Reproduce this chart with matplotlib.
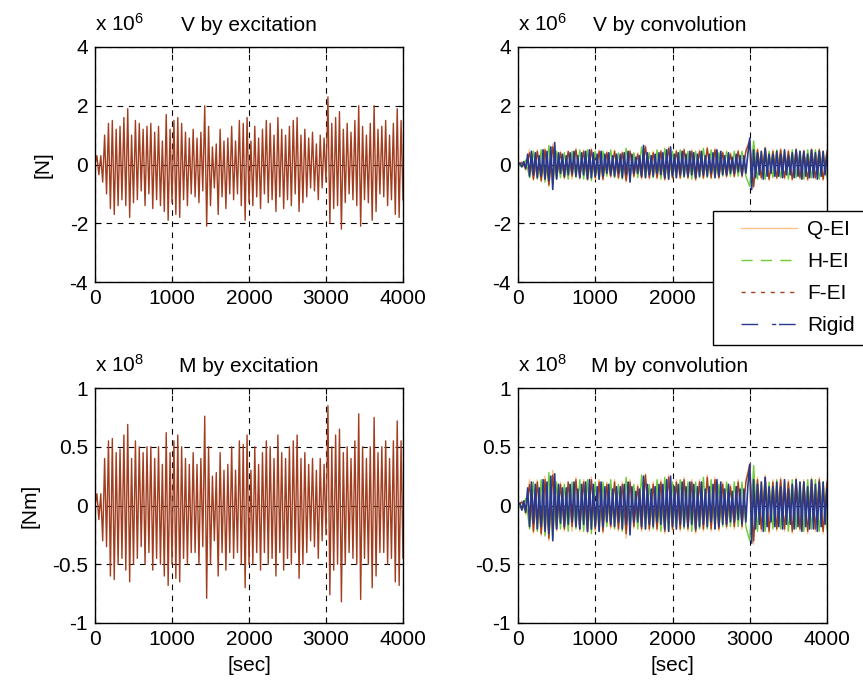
import matplotlib
matplotlib.use('Agg')
import matplotlib.pyplot as plt
from matplotlib.lines import Line2D
from matplotlib.legend_handler import HandlerLine2D
import numpy as np

plt.rcParams['font.family'] = ['Liberation Sans', 'DejaVu Sans']
plt.rcParams['mathtext.default'] = 'regular'
plt.rcParams['font.size'] = 15

# shear force by excitation (x 1e6 N), sampled every 25 s
v_exc = [0, 0.3, -0.35, 0.3, -0.6, 1.0, -1.0, 1.4, -1.5, 1.5,
         -1.7, 1.2, -1.4, 1.3, -1.2, 1.6, -1.4, 1.9, -1.8, 1.0,
         -1.3, 1.5, -1.2, 1.4, -0.9, 1.2, -1.4, 1.3, -1.0, 1.4,
         -1.5, 1.1, -1.2, 1.3, -1.4, 0.8, -1.6, 1.7, -1.9, 1.2,
         -1.3, 1.5, -1.7, 1.6, -1.8, 1.4, -1.2, 1.1, -1.4, 0.9,
         -1.0, 1.2, -1.1, 0.9, -1.3, 1.1, -0.9, 2.0, -2.1, 1.3,
         -1.4, 0.6, -0.8, 0.7, -1.7, 1.2, -1.1, 0.8, -1.5, 0.9,
         -1.0, 1.3, -1.2, 0.8, -1.0, 1.5, -1.4, 1.4, -1.9, 1.6,
         -1.3, 0.8, -1.4, 1.3, -1.1, 0.9, -1.5, 1.2, -1.0, 1.5,
         -1.3, 1.4, -1.2, 1.0, -1.6, 1.6, -1.1, 1.2, -1.5, 1.0,
         -1.2, 1.3, -1.4, 1.5, -1.0, 1.6, -1.6, 1.0, -1.3, 1.2,
         -1.1, 0.9, -0.8, 1.1, -0.9, 0.7, -1.2, 1.0, -0.8, 0.9,
         -0.6, 2.3, -2.0, 1.4, -1.5, 1.6, -1.4, 1.8, -2.2, 1.2,
         -1.3, 1.4, -1.0, 1.1, -1.2, 1.5, -1.4, 2.0, -2.1, 1.3,
         -1.2, 1.0, -1.3, 1.4, -1.9, 2.0, -1.6, 1.2, -1.0, 1.3,
         -1.1, 1.5, -1.4, 1.0, -1.2, 1.4, -1.7, 1.9, -1.8, 1.5,
         -1.2]

# bending moment by excitation (x 1e8 Nm), sampled every 25 s
m_exc = [0, 0.1, -0.12, 0.1, -0.3, 0.4, -0.35, 0.55, -0.6, 0.57,
         -0.63, 0.45, -0.5, 0.48, -0.45, 0.6, -0.55, 0.69, -0.65, 0.4,
         -0.5, 0.55, -0.45, 0.5, -0.35, 0.45, -0.5, 0.5, -0.4, 0.5,
         -0.55, 0.4, -0.45, 0.5, -0.5, 0.35, -0.6, 0.62, -0.68, 0.45,
         -0.5, 0.55, -0.62, 0.6, -0.65, 0.5, -0.45, 0.4, -0.5, 0.35,
         -0.4, 0.45, -0.4, 0.35, -0.5, 0.4, -0.35, 0.76, -0.79, 0.5,
         -0.5, 0.25, -0.3, 0.28, -0.6, 0.45, -0.4, 0.3, -0.55, 0.35,
         -0.4, 0.5, -0.45, 0.3, -0.4, 0.55, -0.5, 0.52, -0.7, 0.6,
         -0.5, 0.3, -0.5, 0.5, -0.4, 0.35, -0.55, 0.45, -0.4, 0.55,
         -0.5, 0.5, -0.45, 0.4, -0.6, 0.6, -0.4, 0.45, -0.55, 0.4,
         -0.45, 0.5, -0.5, 0.55, -0.4, 0.6, -0.62, 0.4, -0.5, 0.45,
         -0.4, 0.35, -0.3, 0.4, -0.35, 0.3, -0.45, 0.4, -0.3, 0.35,
         -0.25, 0.85, -0.76, 0.5, -0.55, 0.6, -0.5, 0.65, -0.82, 0.45,
         -0.5, 0.5, -0.4, 0.4, -0.45, 0.55, -0.5, 0.78, -0.8, 0.5,
         -0.45, 0.4, -0.5, 0.5, -0.7, 0.75, -0.6, 0.45, -0.4, 0.5,
         -0.4, 0.55, -0.5, 0.4, -0.45, 0.55, -0.65, 0.72, -0.68, 0.55,
         -0.45]

# shear force by convolution (x 1e6 N)
v_rigid = [0, 0.05, -0.08, 0.1, -0.15, 0.35, -0.4, 0.45, -0.35, 0.4,
           -0.45, 0.3, -0.4, 0.5, -0.5, 0.45, -0.55, 0.6, -0.85, 0.75,
           -0.5, 0.4, -0.3, 0.35, -0.4, 0.3, -0.35, 0.4, -0.3, 0.45,
           -0.4, 0.3, -0.45, 0.4, -0.35, 0.45, -0.5, 0.5, -0.45, 0.4,
           -0.4, 0.35, -0.5, 0.45, -0.4, 0.35, -0.3, 0.4, -0.35, 0.3,
           -0.4, 0.35, -0.3, 0.35, -0.45, 0.4, -0.35, 0.45, -0.6, 0.35,
           -0.3, 0.25, -0.3, 0.3, -0.4, 0.65, -0.45, 0.4, -0.35, 0.3,
           -0.4, 0.35, -0.3, 0.4, -0.35, 0.4, -0.45, 0.5, -0.5, 0.6,
           -0.4, 0.35, -0.45, 0.4, -0.35, 0.45, -0.4, 0.35, -0.4, 0.45,
           -0.35, 0.4, -0.45, 0.35, -0.4, 0.45, -0.35, 0.3, -0.4, 0.35,
           -0.3, 0.4, -0.45, 0.5, -0.4, 0.45, -0.35, 0.3, -0.35, 0.4,
           -0.3, 0.25, -0.3, 0.35, -0.25, 0.3, -0.35, 0.3, -0.3, 0.35,
           0.9, -0.85, 0.5, -0.45, 0.4, -0.35, 0.45, -0.5, 0.55, -0.4,
           0.35, -0.3, 0.35, -0.4, 0.45, -0.4, 0.35, -0.45, 0.5, -0.35,
           0.3, -0.35, 0.4, -0.45, 0.5, -0.4, 0.45, -0.5, 0.45, -0.4,
           0.35, -0.45, 0.5, -0.45, 0.4, -0.5, 0.45, -0.4, 0.45, -0.35,
           0.3]
v_qei = [0, 0.1, -0.2, 0.5, -0.55, 0.5, -0.6, 0.55, -0.75, 0.7,
         -0.5, 0.45, -0.5, 0.45, -0.5, 0.55, -0.5, 0.5, -0.55, 0.55,
         -0.5, 0.5, -0.55, 0.45, -0.45, 0.5, -0.5, 0.45, -0.6, 0.5,
         -0.45, 0.4, -0.5, 0.65, -0.5, 0.45, -0.5, 0.5, -0.55, 0.6,
         -0.5, 0.5, -0.5, 0.55, -0.5, 0.5, -0.55, 0.5, -0.5, 0.6,
         -0.5, 0.55, -0.5, 0.45, -0.45, 0.4, -0.45, 0.5, -0.45, 0.5,
         0.85, -0.8, 0.55, -0.5, 0.6, -0.55, 0.5, -0.5, 0.55, -0.5,
         0.5, -0.55, 0.55, -0.5, 0.5, -0.55, 0.55, -0.5, 0.55, -0.55,
         0.5]
v_hei = [0, -0.08, 0.15, -0.45, 0.45, -0.5, 0.5, -0.6, 0.65, -0.7,
         0.45, -0.45, 0.4, -0.5, 0.45, -0.45, 0.5, -0.5, 0.5, -0.55,
         0.45, -0.5, 0.45, -0.4, 0.5, -0.45, 0.4, -0.5, 0.55, -0.45,
         0.4, -0.45, 0.6, -0.45, 0.4, -0.45, 0.5, -0.5, 0.55, -0.5,
         0.45, -0.45, 0.5, -0.45, 0.45, -0.5, 0.45, -0.45, 0.55, -0.45,
         0.5, -0.45, 0.4, -0.4, 0.45, -0.4, 0.45, -0.4, 0.45, -0.4,
         -0.75, 0.8, -0.5, 0.45, -0.5, 0.45, -0.45, 0.5, -0.45, 0.45,
         -0.5, 0.5, -0.45, 0.45, -0.5, 0.5, -0.45, 0.5, -0.5, 0.45,
         -0.45]
v_fei = [0, 0.06, -0.12, 0.4, -0.5, 0.45, -0.55, 0.5, -0.7, 0.6,
         -0.45, 0.4, -0.45, 0.45, -0.4, 0.5, -0.45, 0.45, -0.5, 0.5,
         -0.45, 0.45, -0.5, 0.4, -0.4, 0.45, -0.45, 0.4, -0.55, 0.45,
         -0.4, 0.35, -0.45, 0.6, -0.45, 0.4, -0.45, 0.45, -0.5, 0.55,
         -0.45, 0.45, -0.45, 0.5, -0.45, 0.45, -0.5, 0.45, -0.45, 0.55,
         -0.45, 0.5, -0.45, 0.4, -0.4, 0.35, -0.4, 0.45, -0.4, 0.45,
         0.8, -0.75, 0.5, -0.45, 0.55, -0.5, 0.45, -0.45, 0.5, -0.45,
         0.45, -0.5, 0.5, -0.45, 0.45, -0.5, 0.5, -0.45, 0.5, -0.5,
         0.45]

# bending moment by convolution (x 1e8 Nm)
m_rigid = [0, 0.02, -0.04, 0.04, -0.06, 0.15, -0.18, 0.2, -0.15, 0.18,
           -0.2, 0.15, -0.18, 0.22, -0.22, 0.2, -0.24, 0.25, -0.3, 0.27,
           -0.2, 0.18, -0.15, 0.15, -0.18, 0.15, -0.16, 0.18, -0.14, 0.2,
           -0.18, 0.14, -0.2, 0.18, -0.16, 0.2, -0.22, 0.22, -0.2, 0.18,
           -0.18, 0.16, -0.22, 0.2, -0.18, 0.16, -0.14, 0.18, -0.16, 0.14,
           -0.18, 0.16, -0.14, 0.16, -0.2, 0.18, -0.16, 0.2, -0.25, 0.16,
           -0.14, 0.12, -0.14, 0.14, -0.18, 0.25, -0.2, 0.18, -0.16, 0.14,
           -0.18, 0.16, -0.14, 0.18, -0.16, 0.18, -0.2, 0.22, -0.22, 0.25,
           -0.18, 0.16, -0.2, 0.18, -0.16, 0.2, -0.18, 0.16, -0.18, 0.2,
           -0.16, 0.18, -0.2, 0.16, -0.18, 0.2, -0.16, 0.14, -0.18, 0.16,
           -0.14, 0.18, -0.2, 0.22, -0.18, 0.2, -0.16, 0.14, -0.16, 0.18,
           -0.14, 0.12, -0.14, 0.16, -0.12, 0.14, -0.16, 0.14, -0.14, 0.16,
           0.35, -0.32, 0.22, -0.2, 0.18, -0.16, 0.2, -0.22, 0.24, -0.18,
           0.16, -0.14, 0.16, -0.18, 0.2, -0.18, 0.16, -0.2, 0.22, -0.16,
           0.14, -0.16, 0.18, -0.2, 0.22, -0.18, 0.2, -0.22, 0.2, -0.18,
           0.16, -0.2, 0.22, -0.2, 0.18, -0.22, 0.2, -0.18, 0.2, -0.16,
           0.14]
m_qei = [0, 0.04, -0.08, 0.22, -0.24, 0.22, -0.26, 0.25, -0.3, 0.3,
         -0.22, 0.2, -0.22, 0.2, -0.22, 0.24, -0.22, 0.22, -0.24, 0.24,
         -0.22, 0.22, -0.24, 0.2, -0.2, 0.22, -0.22, 0.2, -0.28, 0.22,
         -0.2, 0.18, -0.22, 0.27, -0.22, 0.2, -0.22, 0.22, -0.24, 0.26,
         -0.22, 0.22, -0.22, 0.24, -0.22, 0.22, -0.24, 0.22, -0.22, 0.26,
         -0.22, 0.24, -0.22, 0.2, -0.2, 0.18, -0.2, 0.22, -0.2, 0.22,
         0.36, -0.33, 0.24, -0.22, 0.26, -0.24, 0.22, -0.22, 0.24, -0.22,
         0.22, -0.24, 0.24, -0.22, 0.22, -0.24, 0.24, -0.22, 0.24, -0.24,
         0.22]
m_hei = [0, -0.03, 0.06, -0.2, 0.2, -0.22, 0.22, -0.26, 0.28, -0.28,
         0.2, -0.2, 0.18, -0.22, 0.2, -0.2, 0.22, -0.22, 0.22, -0.24,
         0.2, -0.22, 0.2, -0.18, 0.22, -0.2, 0.18, -0.22, 0.24, -0.2,
         0.18, -0.2, 0.26, -0.2, 0.18, -0.2, 0.22, -0.22, 0.24, -0.22,
         0.2, -0.2, 0.22, -0.2, 0.2, -0.22, 0.2, -0.2, 0.24, -0.2,
         0.22, -0.2, 0.18, -0.18, 0.2, -0.18, 0.2, -0.18, 0.2, -0.18,
         -0.3, 0.34, -0.22, 0.2, -0.22, 0.2, -0.2, 0.22, -0.2, 0.2,
         -0.22, 0.22, -0.2, 0.2, -0.22, 0.22, -0.2, 0.22, -0.22, 0.2,
         -0.2]
m_fei = [0, 0.03, -0.05, 0.18, -0.22, 0.2, -0.24, 0.22, -0.28, 0.26,
         -0.2, 0.18, -0.2, 0.2, -0.18, 0.22, -0.2, 0.2, -0.22, 0.22,
         -0.2, 0.2, -0.22, 0.18, -0.18, 0.2, -0.2, 0.18, -0.24, 0.2,
         -0.18, 0.16, -0.2, 0.26, -0.2, 0.18, -0.2, 0.2, -0.22, 0.24,
         -0.2, 0.2, -0.2, 0.22, -0.2, 0.2, -0.22, 0.2, -0.2, 0.24,
         -0.2, 0.22, -0.2, 0.18, -0.18, 0.16, -0.18, 0.2, -0.18, 0.2,
         0.34, -0.3, 0.22, -0.2, 0.24, -0.22, 0.2, -0.2, 0.22, -0.2,
         0.2, -0.22, 0.22, -0.2, 0.2, -0.22, 0.22, -0.2, 0.22, -0.22,
         0.2]

series_names = ['Q-EI', 'H-EI', 'F-EI', 'Rigid']
series_colors = ['#FFC08A', '#6CCB3A', '#A0401E', '#28388C']
series_styles = ['-', (0, (8, 6)), (0, (3, 4)), (0, (12, 10, 3, 2))]
series_lw = [1.0, 1.0, 1.0, 1.2]
exc_color = '#A23E20'


def t_of(vals):
    return np.linspace(0, 4000, len(vals))


def style_axes(ax, ylim, yticks, ytlabels, power, title, title_x=0.5):
    ax.set_xlim(0, 4000)
    ax.set_ylim(*ylim)
    ax.set_xticks([0, 1000, 2000, 3000, 4000])
    ax.set_yticks(yticks)
    ax.set_yticklabels(ytlabels)
    ax.tick_params(direction='in', length=4, top=True, right=True,
                   labelsize=15, pad=5)
    ax.grid(True, color='k', linestyle=(0, (5, 5)), linewidth=0.8)
    for sp in ax.spines.values():
        sp.set_linewidth(1.0)
    ax.text(0, 1.07, 'x 10$^{%d}$' % power, transform=ax.transAxes,
            ha='left', va='baseline', fontsize=15)
    ax.text(title_x, 1.07, title, transform=ax.transAxes,
            ha='center', va='baseline', fontsize=15)


fig = plt.figure(figsize=(8.63, 6.85), dpi=100)
W, H = 863, 685


def add_ax(left, top, right, bottom):
    return fig.add_axes([left / W, 1 - bottom / H, (right - left) / W,
                         (bottom - top) / H])


ax1 = add_ax(95, 47, 403, 282)
ax2 = add_ax(518, 47, 827, 282)
ax3 = add_ax(95, 388, 403, 623)
ax4 = add_ax(518, 388, 827, 623)

ax1.plot(t_of(v_exc), v_exc, color=exc_color, linewidth=1.0)
ax3.plot(t_of(m_exc), m_exc, color=exc_color, linewidth=1.0)

# dense curves: plotted solid, legend shows the line styles
for ax, group in [(ax2, [v_qei, v_hei, v_fei, v_rigid]),
                  (ax4, [m_qei, m_hei, m_fei, m_rigid])]:
    for vals, col, lw in zip(group, series_colors, series_lw):
        ax.plot(t_of(vals), vals, color=col, linewidth=lw)

handles = [Line2D([], [], color=c, linestyle=ls, linewidth=1.0)
           for c, ls in zip(series_colors, series_styles)]

vt = [-4, -2, 0, 2, 4]
mt = [-1, -0.5, 0, 0.5, 1]
style_axes(ax1, (-4, 4), vt, ['-4', '-2', '0', '2', '4'], 6, 'V by excitation')
style_axes(ax2, (-4, 4), vt, ['-4', '-2', '0', '2', '4'], 6, 'V by convolution', 0.49)
style_axes(ax3, (-1, 1), mt, ['-1', '-0.5', '0', '0.5', '1'], 8, 'M by excitation')
style_axes(ax4, (-1, 1), mt, ['-1', '-0.5', '0', '0.5', '1'], 8, 'M by convolution', 0.49)

ax1.set_ylabel('[N]', fontsize=15, labelpad=12)
ax3.set_ylabel('[Nm]', fontsize=15, labelpad=9)
ax3.set_xlabel('[sec]', fontsize=15, labelpad=5)
ax4.set_xlabel('[sec]', fontsize=15, labelpad=5)

leg = fig.legend(handles, series_names, loc='upper left',
                 bbox_to_anchor=(713 / W, 1 - 211 / H),
                 fontsize=15, frameon=True, fancybox=False, shadow=False,
                 edgecolor='k', framealpha=1, handlelength=3.6,
                 handletextpad=0.45, labelspacing=0.62, borderpad=0.45,
                 borderaxespad=0,
                 handler_map={Line2D: HandlerLine2D(xpad=0.87)})
leg.get_frame().set_linewidth(1.0)

fig.savefig('out.png', dpi=100)
